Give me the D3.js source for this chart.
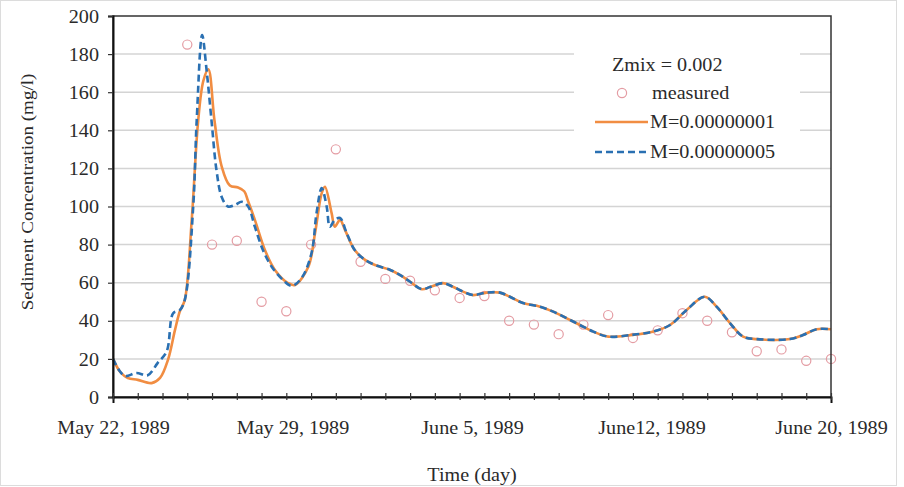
<!DOCTYPE html>
<html>
<head>
<meta charset="utf-8">
<script src="https://cdn.jsdelivr.net/npm/d3@7"></script>
<style>
  html, body { margin: 0; padding: 0; background: #fff; }
  svg text { font-family: "Liberation Serif", "DejaVu Serif", serif !important; fill: #2a2a2a; }
</style>
</head>
<body>
<svg id="chart" width="904" height="487"></svg>
<script>
// ---- data (x in days after May 22, 1989) ----
const xLabelValues = [0, 7.25, 14.5, 21.75, 29];
const xLabels = ["May 22, 1989", "May 29, 1989", "June 5, 1989", "June12, 1989", "June 20, 1989"];
const yTicks = [0, 20, 40, 60, 80, 100, 120, 140, 160, 180, 200];

const measuredDays   = [3, 4, 5, 6, 7, 8, 9, 10, 11, 12, 13, 14, 15, 16, 17, 18, 19, 20, 21, 22, 23, 24, 25, 26, 27, 28, 29];
const measuredValues = [185, 80, 82, 50, 45, 80, 130, 71, 62, 61, 56, 52, 53, 40, 38, 33, 38, 43, 31, 35, 44, 40, 34, 24, 25, 19, 20];

const m1Days   = [0, 0.3, 0.6, 1.0, 1.56, 1.9, 2.22, 2.5, 2.7, 2.9, 3.18, 3.44, 3.65, 3.85, 4.1, 4.39, 4.72, 5.05, 5.3, 5.45, 5.73, 6.14, 6.54, 7.07, 7.35, 7.89, 8.16, 8.43, 8.56, 8.83, 8.96, 9.17, 9.37, 9.77, 10.18, 10.58, 11.2, 11.6, 12, 12.47, 12.8, 13.33, 13.73, 14.14, 14.54, 15.09, 15.63, 16.03, 16.56, 17.25, 17.78, 18.33, 18.86, 19.4, 20, 20.9, 21.8, 22.5, 23.17, 23.9, 24.38, 24.92, 25.45, 26, 27.34, 27.87, 28.42, 29];
const m1Values = [20, 13, 10, 9, 7.3, 10, 19.5, 35, 45, 51, 93, 145, 166, 172, 145, 121, 111, 110, 108, 103, 93, 77, 66.7, 59.8, 58.8, 68.4, 86, 107, 110.4, 96.5, 89.4, 93, 87.7, 77, 72, 69.3, 66.7, 64, 60.5, 56.6, 57.7, 59.8, 57.9, 55.3, 53.5, 54.8, 54.8, 52.6, 49.3, 47.4, 44.8, 41.3, 37.8, 34.3, 31.7, 32.5, 34.3, 37.8, 45.7, 52.6, 47.4, 38.8, 31.7, 30.4, 30.4, 32.5, 35.6, 35.6];

const m5Days   = [0, 0.25, 0.5, 0.95, 1.4, 1.8, 2.17, 2.43, 2.7, 2.9, 3.24, 3.38, 3.6, 3.78, 3.98, 4.18, 4.39, 4.64, 4.93, 5.2, 5.46, 5.73, 6.06, 6.41, 6.87, 7.22, 7.62, 8.02, 8.22, 8.43, 8.63, 8.76, 8.96, 9.17, 9.44, 9.77, 10.18, 10.58, 11.2, 11.6, 12, 12.47, 12.8, 13.33, 13.73, 14.14, 14.54, 15.09, 15.63, 16.03, 16.56, 17.25, 17.78, 18.33, 18.86, 19.4, 20, 20.9, 21.8, 22.5, 23.17, 23.9, 24.38, 24.92, 25.45, 26, 27.34, 27.87, 28.42, 29];
const m5Values = [20, 14, 11, 12.6, 11.4, 17.8, 24, 44, 45.6, 51, 100, 145, 190, 171.6, 145, 119, 105, 100, 100.8, 102.5, 100, 89.4, 77, 68.4, 61.4, 58.3, 62.5, 75.6, 96.5, 109.7, 100, 89.4, 93, 94, 86, 77, 72, 69.3, 66.7, 64, 60.5, 56.6, 57.7, 59.8, 57.9, 55.3, 53.5, 54.8, 54.8, 52.6, 49.3, 47.4, 44.8, 41.3, 37.8, 34.3, 31.7, 32.5, 34.3, 37.8, 45.7, 52.6, 47.4, 38.8, 31.7, 30.4, 30.4, 32.5, 35.6, 35.6];

const legendTitle = "Zmix = 0.002";
const seriesNames = ["measured", "M=0.00000001", "M=0.00000005"];

// ---- layout ----
const FONT = '"Liberation Serif", "DejaVu Serif", serif';
const svg = d3.select("#chart");
const L = 113, R = 831, T = 16, B = 397;
const SX = 1.12; // horizontal text stretch
const x = d3.scaleLinear().domain([0, 29]).range([L, R]);
const y = d3.scaleLinear().domain([0, 200]).range([B, T]);

const colMeasured = "#E49CA3", colM1 = "#F18D42", colM5 = "#2A70B2";

// outer chart border
svg.append("rect").attr("x", 0.5).attr("y", 0.5).attr("width", 896).attr("height", 485)
  .attr("fill", "#fff").attr("stroke", "#dcdcdc");

// gridlines
svg.append("g").selectAll("line").data(yTicks.filter(v => v > 0 && v < 200)).join("line")
  .attr("x1", L).attr("x2", R).attr("y1", d => y(d)).attr("y2", d => y(d))
  .attr("stroke", "#d4d4d4").attr("stroke-width", 1.5);

// legend background (covers gridlines)
svg.append("rect").attr("x", 574).attr("y", 37).attr("width", 226).attr("height", 125).attr("fill", "#fff");

// measured circles
svg.append("g").selectAll("circle").data(measuredDays.map((d, i) => [d, measuredValues[i]])).join("circle")
  .attr("cx", d => x(d[0])).attr("cy", d => y(d[1])).attr("r", 4.6)
  .attr("fill", "none").attr("stroke", colMeasured).attr("stroke-width", 1.2);

const line = d3.line().x(d => x(d[0])).y(d => y(d[1])).curve(d3.curveCatmullRom.alpha(0.5));
svg.append("path").datum(m1Days.map((d, i) => [d, m1Values[i]]))
  .attr("d", line).attr("fill", "none").attr("stroke", colM1).attr("stroke-width", 2.6);
svg.append("path").datum(m5Days.map((d, i) => [d, m5Values[i]]))
  .attr("d", line).attr("fill", "none").attr("stroke", colM5).attr("stroke-width", 2.6)
  .attr("stroke-dasharray", "7,4");

// plot frame
svg.append("rect").attr("x", L).attr("y", T).attr("width", R - L).attr("height", B - T)
  .attr("fill", "none").attr("stroke", "#333").attr("stroke-width", 1.5);

// y axis
const yAxis = svg.append("g").attr("transform", `translate(${L},0)`)
  .call(d3.axisLeft(y).tickValues(yTicks).tickSize(5).tickPadding(10));
yAxis.attr("font-family", FONT);
yAxis.select(".domain").attr("stroke", "#111").attr("stroke-width", 2);
yAxis.selectAll(".tick line").attr("stroke", "#333").attr("stroke-width", 1.2);
yAxis.selectAll(".tick text").attr("font-size", 18).attr("fill", "#2a2a2a")
  .style("font-family", FONT).attr("x", 0).attr("dy", "0.34em")
  .attr("transform", `translate(-14,0) scale(${SX},1)`);

// x axis ticks (daily)
const xAxis = svg.append("g").attr("transform", `translate(0,${B})`)
  .call(d3.axisBottom(x).tickValues(d3.range(0, 30)).tickFormat(""));
xAxis.select(".domain").attr("stroke", "#111").attr("stroke-width", 2);
xAxis.selectAll(".tick line").attr("y1", -4).attr("y2", 3).attr("stroke", "#333").attr("stroke-width", 1.2);

// x labels
const xLab = svg.append("g").attr("transform", `translate(0,${B})`)
  .call(d3.axisBottom(x).tickValues(xLabelValues).tickFormat((d, i) => xLabels[i]).tickSize(0));
xLab.attr("font-family", FONT);
xLab.select(".domain").remove();
xLab.selectAll(".tick text").attr("font-size", 18).attr("fill", "#2a2a2a")
  .style("font-family", FONT).attr("y", 0).attr("dy", 0)
  .attr("transform", `translate(0,37) scale(${SX},1)`);

function stext(px, py, str, anchor, rot) {
  return svg.append("text").attr("font-size", 18).attr("fill", "#2a2a2a").attr("text-anchor", anchor)
    .style("font-family", FONT)
    .attr("transform", `translate(${px},${py})` + (rot ? ` rotate(${rot})` : "") + ` scale(${SX},1)`)
    .text(str);
}

// axis titles
stext(472, 481, "Time (day)", "middle");
stext(33, 192, "Sediment Concentration (mg/l)", "middle", -90).attr("font-size", 17);

// legend
stext(612, 71, legendTitle, "start");
svg.append("circle").attr("cx", 622).attr("cy", 93).attr("r", 4.6)
  .attr("fill", "none").attr("stroke", colMeasured).attr("stroke-width", 1.2);
stext(652, 99, seriesNames[0], "start");
svg.append("line").attr("x1", 595).attr("x2", 648).attr("y1", 122).attr("y2", 122)
  .attr("stroke", colM1).attr("stroke-width", 2.6);
stext(650, 128, seriesNames[1], "start");
svg.append("line").attr("x1", 595).attr("x2", 648).attr("y1", 152).attr("y2", 152)
  .attr("stroke", colM5).attr("stroke-width", 2.6).attr("stroke-dasharray", "7,4");
stext(650, 158, seriesNames[2], "start");
</script>
</body>
</html>
